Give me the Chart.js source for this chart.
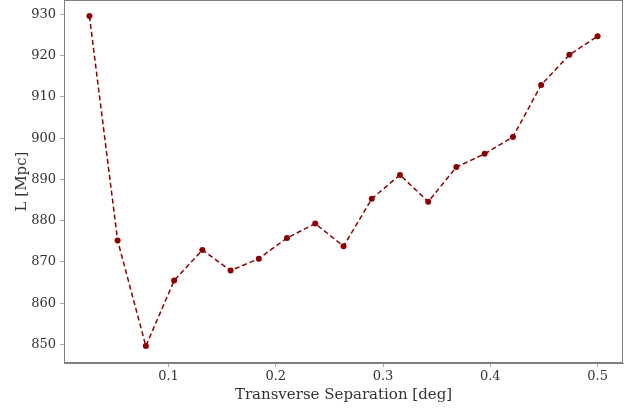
<!DOCTYPE html>
<html>
<head>
<meta charset="utf-8">
<script src="https://cdn.jsdelivr.net/npm/chart.js@4"></script>
<style>
  html, body { margin: 0; padding: 0; background: #fff; }
  #wrap { width: 635px; height: 408px; position: relative; }
</style>
</head>
<body>
<div id="wrap"><canvas id="chart"></canvas></div>
<script>
// transverse separation (deg) and comoving length (Mpc)
const separation = [0.0263, 0.0526, 0.0789, 0.1053, 0.1316, 0.1579, 0.1842, 0.2105, 0.2368, 0.2632,
  0.2895, 0.3158, 0.3421, 0.3684, 0.3947, 0.4211, 0.4474, 0.4737, 0.5];
const lengthMpc = [929.6, 875.2, 849.6, 865.5, 872.9, 867.9, 870.8, 875.8, 879.3, 873.8,
  885.3, 891.1, 884.6, 893.0, 896.2, 900.3, 912.9, 920.2, 924.7];
const xTicks = [0.1, 0.2, 0.3, 0.4, 0.5];
const yTicks = [850, 860, 870, 880, 890, 900, 910, 920, 930];

const points = separation.map((x, i) => ({ x: x, y: lengthMpc[i] }));

// matplotlib-style box around the axes
const frame = {
  id: 'frame',
  afterDraw(chart) {
    const { ctx, chartArea: a } = chart;
    ctx.save();
    ctx.strokeStyle = '#808080';
    ctx.lineWidth = 1;
    ctx.strokeRect(a.left + 0.5, a.top + 0.5, a.right - a.left - 1, a.bottom - a.top - 1);
    ctx.restore();
  }
};

const tickFont = { family: 'DejaVu Serif', size: 13 };
const titleFont = { family: 'DejaVu Serif', size: 15 };

function noEdgePad(s) {
  s.paddingTop = 0;
  s.paddingBottom = 0;
  s.paddingLeft = 0;
  s.paddingRight = 0;
}

new Chart(document.getElementById('chart'), {
  type: 'line',
  data: {
    datasets: [{
      data: points,
      borderColor: '#8b0000',
      backgroundColor: '#8b0000',
      borderWidth: 1.5,
      borderDash: [5, 3],
      pointRadius: 3,
      pointBorderWidth: 0,
      tension: 0,
      clip: 6
    }]
  },
  options: {
    responsive: true,
    maintainAspectRatio: false,
    animation: false,
    layout: { autoPadding: false, padding: { top: 0, right: 12, left: 0, bottom: 0 } },
    plugins: { legend: { display: false }, tooltip: { enabled: false } },
    scales: {
      x: {
        type: 'linear',
        min: 0.0026,
        max: 0.5237,
        afterBuildTicks: s => { s.ticks = xTicks.map(v => ({ value: v })); },
        afterFit: s => { s.height = 45; noEdgePad(s); },
        ticks: { font: tickFont, color: '#333', padding: 2, maxRotation: 0 },
        grid: { drawOnChartArea: false, drawTicks: true, tickLength: 4, color: '#aaa' },
        border: { color: '#808080' },
        title: { display: true, text: 'Transverse Separation [deg]', font: titleFont, color: '#333', padding: { top: 0 } }
      },
      y: {
        type: 'linear',
        min: 845.5,
        max: 933.5,
        afterBuildTicks: s => { s.ticks = yTicks.map(v => ({ value: v })); },
        afterFit: s => { s.width = 64; noEdgePad(s); },
        ticks: { font: tickFont, color: '#333', padding: 4 },
        grid: { drawOnChartArea: false, drawTicks: true, tickLength: 4, color: '#aaa' },
        border: { color: '#808080' },
        title: { display: true, text: 'L [Mpc]', font: titleFont, color: '#333', padding: { top: 13, bottom: 0 } }
      }
    }
  },
  plugins: [frame]
});
</script>
</body>
</html>
